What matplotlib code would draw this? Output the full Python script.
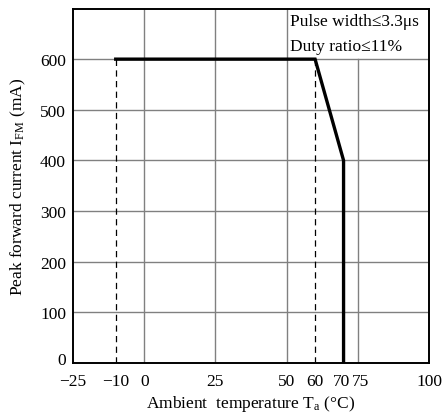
import matplotlib
matplotlib.use('Agg')
import matplotlib.pyplot as plt
from matplotlib.transforms import ScaledTranslation

plt.rcParams['font.family'] = ['Liberation Serif', 'DejaVu Serif']
plt.rcParams['mathtext.fontset'] = 'custom'
plt.rcParams['mathtext.rm'] = 'Liberation Serif'
plt.rcParams['mathtext.it'] = 'Liberation Serif:italic'
plt.rcParams['mathtext.default'] = 'regular'

# derating curve
temp = [-10, 60, 70, 70]
current = [600, 600, 400, 0]

xticks = [-25, -10, 0, 25, 50, 60, 70, 75, 100]
xticklabels = ['\u221225', '\u221210', '0', '25', '50', '60', '70', '75', '100']
yticks = [0, 100, 200, 300, 400, 500, 600]
vgrid = [0, 25, 50, 75]
hgrid = [100, 200, 300, 400, 500, 600]
dashed_x = [-10, 60]

fig = plt.figure(figsize=(4.42, 4.14), dpi=100)
ax = fig.add_axes([73/442, 50/414, 356/442, 354.5/414])

gcol = '#808080'
for x in vgrid:
    top = 600 if x == 75 else 700
    ax.plot([x, x], [0, top], color=gcol, lw=1.0, zorder=1)
for y in hgrid:
    ax.plot([-25, 100], [y, y], color=gcol, lw=1.0, zorder=1)
for x in dashed_x:
    ax.plot([x, x], [0, 600], color='black', lw=0.9, dashes=(5, 3.5), zorder=2)

ax.plot(temp, current, color='black', lw=2.4, solid_joinstyle='miter', zorder=3)

ax.text(51.2, 675, 'Pulse width≤3.3μs', fontsize=12.5, va='center', ha='left')
ax.text(51.2, 625, 'Duty ratio≤11%', fontsize=12.5, va='center', ha='left')

ax.set_xlim(-25, 100)
ax.set_ylim(0, 700)
ax.set_xticks(xticks)
ax.set_xticklabels(xticklabels)
ax.set_yticks(yticks)
ax.tick_params(length=0, labelsize=12.5)
ax.tick_params(axis='x', pad=7)
ax.tick_params(axis='y', pad=5)
for s in ax.spines.values():
    s.set_linewidth(1.4)

# nudge a few tick labels like the original
ylab0 = ax.get_yticklabels()[0]
ylab0.set_transform(ylab0.get_transform() + ScaledTranslation(0, 0.05, fig.dpi_scale_trans))
xl = ax.get_xticklabels()
xl[6].set_transform(xl[6].get_transform() + ScaledTranslation(-0.02, 0, fig.dpi_scale_trans))
xl[7].set_transform(xl[7].get_transform() + ScaledTranslation(0.03, 0, fig.dpi_scale_trans))

ax.set_xlabel('Ambient  temperature T$_{a}$ (\u00b0C)', fontsize=12.5, labelpad=3)
ax.set_ylabel('Peak forward current I$_{FM}$ (mA)', fontsize=12.5, labelpad=9)

fig.savefig('out.png', dpi=100)
